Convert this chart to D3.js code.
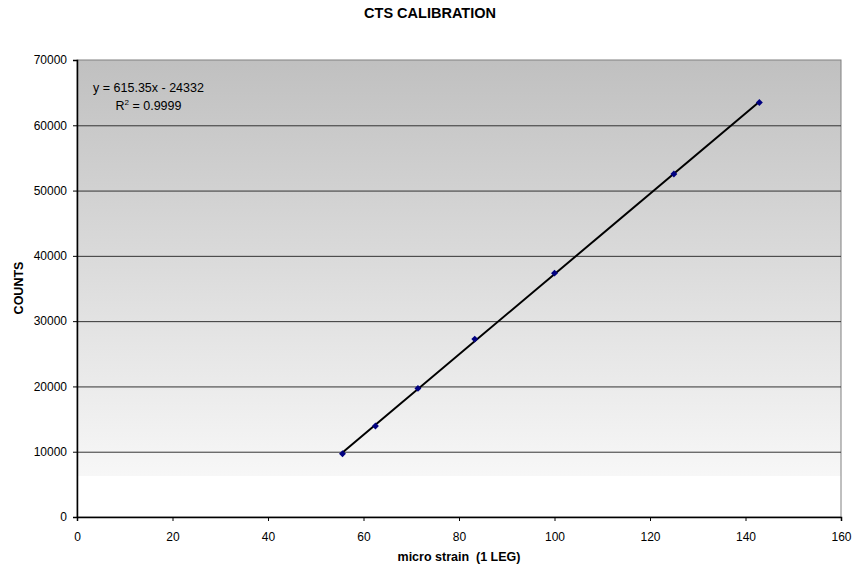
<!DOCTYPE html>
<html><head><meta charset="utf-8">
<script src="https://cdn.jsdelivr.net/npm/d3@7"></script>
<style>body{margin:0;background:#fff}text{font-family:"Liberation Sans",Arial,sans-serif}</style>
</head><body>
<svg id="c" width="856" height="571"></svg>
<script>
const strain = [55.6, 62.5, 71.4, 83.3, 100, 125, 142.9];
const counts = [9700, 13950, 19700, 27250, 37350, 52550, 63500];
const xTicks = [0, 20, 40, 60, 80, 100, 120, 140, 160];
const yTicks = [0, 10000, 20000, 30000, 40000, 50000, 60000, 70000];
const slope = 615.35, intercept = -24332;

const svg = d3.select("#c");
const L = 77, R = 841, T = 60, B = 517;
const x = d3.scaleLinear().domain([0,160]).range([L,R]);
const y = d3.scaleLinear().domain([0,70000]).range([B,T]);

const defs = svg.append("defs");
const g = defs.append("linearGradient").attr("id","bg").attr("x1",0).attr("y1",0).attr("x2",0).attr("y2",1);
g.append("stop").attr("offset","0").attr("stop-color","#c0c0c0");
g.append("stop").attr("offset","0.91").attr("stop-color","#f7f7f7");
g.append("stop").attr("offset","0.91").attr("stop-color","#ffffff");
g.append("stop").attr("offset","1").attr("stop-color","#ffffff");

svg.append("rect").attr("x",L).attr("y",T).attr("width",R-L).attr("height",B-T)
  .attr("fill","url(#bg)").attr("stroke","#808080").attr("stroke-width",1);

svg.append("g").selectAll("line").data(yTicks.filter(d=>d>0&&d<70000)).join("line")
  .attr("x1",L).attr("x2",R).attr("y1",d=>y(d)+0.5).attr("y2",d=>y(d)+0.5)
  .attr("stroke","#333").attr("stroke-width",1);

const yAxis = svg.append("g").attr("transform",`translate(${L},0)`)
  .call(d3.axisLeft(y).tickValues(yTicks).tickSize(4).tickPadding(6).tickFormat(d3.format("d")));
const xAxis = svg.append("g").attr("transform",`translate(0,${B})`)
  .call(d3.axisBottom(x).tickValues(xTicks).tickSize(4).tickPadding(11));
[yAxis,xAxis].forEach(a=>{
  a.attr("font-size",12).attr("font-family","'Liberation Sans',Arial,sans-serif");
  a.selectAll("path,line").attr("stroke","#000");
  a.select("path").attr("stroke-width",1.5);
  a.selectAll("text").attr("fill","#000");
});

// trendline
svg.append("line").attr("x1",x(strain[0])).attr("y1",y(slope*strain[0]+intercept))
  .attr("x2",x(strain[strain.length-1])).attr("y2",y(slope*strain[strain.length-1]+intercept))
  .attr("stroke","#000").attr("stroke-width",2);

const squareDiamond = {draw(ctx,size){const r=Math.sqrt(size/2);ctx.moveTo(0,-r);ctx.lineTo(r,0);ctx.lineTo(0,r);ctx.lineTo(-r,0);ctx.closePath();}};
const pts = strain.map((s,i)=>[s,counts[i]]);
svg.append("g").selectAll("path").data(pts).join("path")
  .attr("d",d3.symbol(squareDiamond,24)())
  .attr("transform",d=>`translate(${x(d[0])},${y(d[1])})`)
  .attr("fill","#000080");

svg.append("text").attr("x",430).attr("y",18).attr("text-anchor","middle")
  .attr("font-size",14.5).attr("font-weight","bold").text("CTS CALIBRATION");
svg.append("text").attr("x",459).attr("y",561).attr("text-anchor","middle")
  .attr("font-size",12.5).attr("font-weight","bold").attr("xml:space","preserve").text("micro strain  (1 LEG)");
svg.append("text").attr("transform","translate(23,288) rotate(-90)").attr("text-anchor","middle")
  .attr("font-size",12.5).attr("font-weight","bold").text("COUNTS");

svg.append("text").attr("x",148.5).attr("y",92).attr("text-anchor","middle").attr("font-size",12.5).text("y = 615.35x - 24332");
const r2 = svg.append("text").attr("x",148.5).attr("y",110).attr("text-anchor","middle").attr("font-size",12.5);
r2.append("tspan").text("R");
r2.append("tspan").attr("dy",-5).attr("font-size",8).text("2");
r2.append("tspan").attr("dy",5).text(" = 0.9999");
</script>
</body></html>
